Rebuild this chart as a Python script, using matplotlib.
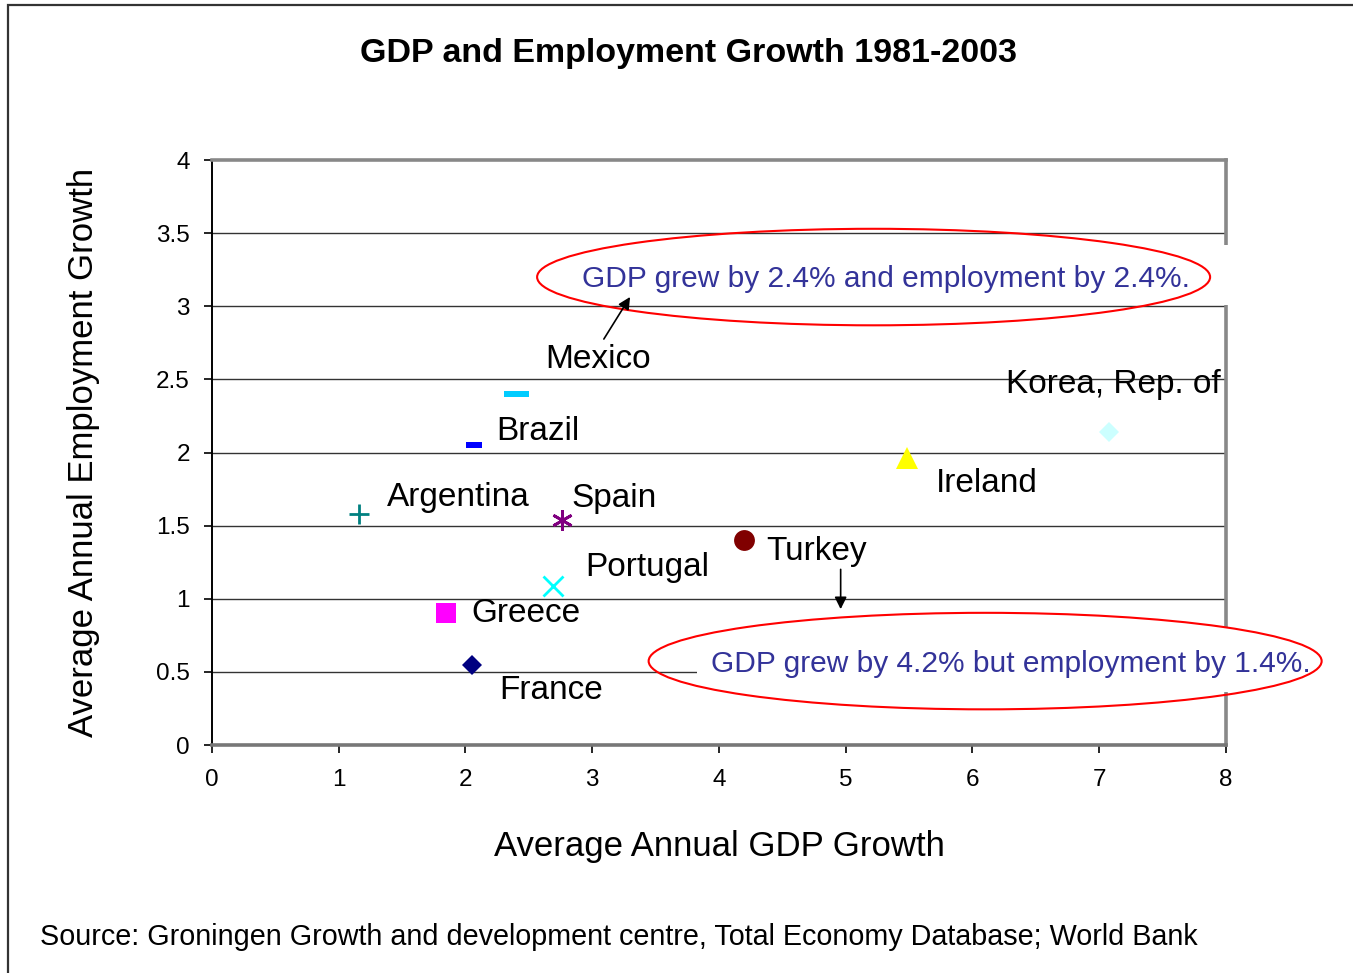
import matplotlib
matplotlib.use("Agg")
import matplotlib.pyplot as plt
from matplotlib.patches import Ellipse, Rectangle

plt.rcParams['font.family'] = ['Liberation Sans', 'DejaVu Sans']

# average annual growth rates 1981-2003 (%)
countries = ['Mexico', 'Brazil', 'Argentina', 'Spain', 'Portugal',
             'Greece', 'France', 'Turkey', 'Ireland', 'Korea, Rep. of']
gdp_growth = [2.4, 2.07, 1.16, 2.76, 2.69, 1.85, 2.05, 4.2, 5.48, 7.08]
emp_growth = [2.4, 2.05, 1.58, 1.54, 1.09, 0.90, 0.55, 1.4, 1.96, 2.14]

y_ticks = [0, 0.5, 1, 1.5, 2, 2.5, 3, 3.5, 4]
y_tick_labels = ['0', '0.5', '1', '1.5', '2', '2.5', '3', '3.5', '4']
x_ticks = [0, 1, 2, 3, 4, 5, 6, 7, 8]

# bar-shaped markers (wide dash)
dash_wide = [(-1.8, -0.5), (1.8, -0.5), (1.8, 0.5), (-1.8, 0.5), (-1.8, -0.5)]
dash_small = [(-1.25, -0.5), (1.25, -0.5), (1.25, 0.5), (-1.25, 0.5), (-1.25, -0.5)]

styles = {
    'Mexico':         dict(marker=dash_wide, color='#00ccff', ms=18, mew=0),
    'Brazil':         dict(marker=dash_small, color='#0000ff', ms=11, mew=0),
    'Argentina':      dict(marker='+', color='#008080', ms=15, mew=2),
    'Spain':          dict(marker=(6, 2, 0), color='#800080', ms=15, mew=2),
    'Portugal':       dict(marker='x', color='#00ffff', ms=14, mew=2),
    'Greece':         dict(marker='s', color='#ff00ff', ms=15, mew=0),
    'France':         dict(marker='D', color='#000080', ms=10.5, mew=0),
    'Turkey':         dict(marker='o', color='#800000', ms=15, mew=0),
    'Ireland':        dict(marker='^', color='#ffff00', ms=16, mew=0),
    'Korea, Rep. of': dict(marker='D', color='#ccffff', ms=10.5, mew=0),
}

# label offsets in points from each marker (dx, dy)
label_offsets = {
    'Mexico':         (21, 25),
    'Brazil':         (16, 10),
    'Argentina':      (20, 12),
    'Spain':          (7, 15),
    'Portugal':       (23, 13),
    'Greece':         (18, 0),
    'France':         (20, -19),
    'Turkey':         (16, -8),
    'Ireland':        (21, -18),
    'Korea, Rep. of': (80, 34),
}
label_ha = {'Korea, Rep. of': 'right'}

fig = plt.figure(figsize=(13.53, 9.73), dpi=100)
ax = fig.add_axes([0.1567, 0.2343, 0.7494, 0.6012])

# outer frame
fig.patches.append(Rectangle((8 / 1353, -0.1), 1.2, 0.1 + (1 - 5 / 973), transform=fig.transFigure,
                             fill=False, edgecolor='#333333', linewidth=1.6, zorder=0))

ax.set_xlim(0, 8)
ax.set_ylim(0, 4)
ax.set_yticks(y_ticks)
ax.set_yticklabels(y_tick_labels)
ax.set_xticks(x_ticks)
ax.tick_params(axis='both', direction='out', length=6, width=1.2, color='black',
               labelsize=17.5, pad=10)
ax.tick_params(axis='x', pad=11)

for yv in y_ticks[1:-1]:
    ax.axhline(yv, color='#333333', linewidth=1.0, zorder=1)

ax.spines['left'].set_color('black')
ax.spines['left'].set_linewidth(1.4)
for side in ['top', 'right', 'bottom']:
    ax.spines[side].set_color('#888888')
    ax.spines[side].set_linewidth(2.6)
ax.spines['bottom'].set_color('#777777')

for name, gx, ey in zip(countries, gdp_growth, emp_growth):
    st = styles[name]
    ax.plot([gx], [ey], linestyle='none', marker=st['marker'], color=st['color'],
            markersize=st['ms'], markeredgewidth=st['mew'], markeredgecolor=st['color'],
            zorder=4, clip_on=False)
    dx, dy = label_offsets[name]
    ax.annotate(name, (gx, ey), xytext=(dx, dy), textcoords='offset points',
                ha=label_ha.get(name, 'left'), va='center', fontsize=24, color='black',
                zorder=5)

# callouts: white text boxes that hide the grid and the right spine behind them
callout_color = '#333399'
ax.add_patch(Rectangle((2.9, 3.01), 5.2, 0.41, facecolor='white', edgecolor='none',
                       zorder=3, clip_on=False))
ax.text(5.32, 3.19, 'GDP grew by 2.4% and employment by 2.4%.', ha='center', va='center',
        fontsize=21.5, color=callout_color, zorder=6)
ax.add_patch(Ellipse((5.22, 3.2), 5.31, 0.66, fill=False, edgecolor='#ff0000',
                     linewidth=1.5, zorder=7, clip_on=False))
ax.annotate('', xy=(3.31, 3.08), xytext=(3.08, 2.76),
            arrowprops=dict(arrowstyle='-|>', color='black', lw=1.2, mutation_scale=18),
            zorder=7)

ax.add_patch(Rectangle((3.83, 0.362), 4.3, 0.445, facecolor='white', edgecolor='none',
                       zorder=3, clip_on=False))
ax.text(6.3, 0.555, 'GDP grew by 4.2% but employment by 1.4%.', ha='center', va='center',
        fontsize=21.5, color=callout_color, zorder=6, clip_on=False)
ax.add_patch(Ellipse((6.1, 0.574), 5.31, 0.66, fill=False, edgecolor='#ff0000',
                     linewidth=1.5, zorder=7, clip_on=False))
ax.annotate('', xy=(4.96, 0.91), xytext=(4.96, 1.22),
            arrowprops=dict(arrowstyle='-|>', color='black', lw=1.2, mutation_scale=18),
            zorder=7)

fig.text(0.5085, 0.945, 'GDP and Employment Growth 1981-2003', ha='center', va='center',
         fontsize=24.5, fontweight='bold')
ax.set_xlabel('Average Annual GDP Growth', fontsize=25, labelpad=28)
ax.set_ylabel('Average Annual Employment Growth', fontsize=25, labelpad=40)
fig.text(40 / 1353, 1 - 937 / 973, 'Source: Groningen Growth and development centre, '
         'Total Economy Database; World Bank', ha='left', va='center', fontsize=20.7)

fig.savefig('out.png', dpi=100, facecolor='white')
